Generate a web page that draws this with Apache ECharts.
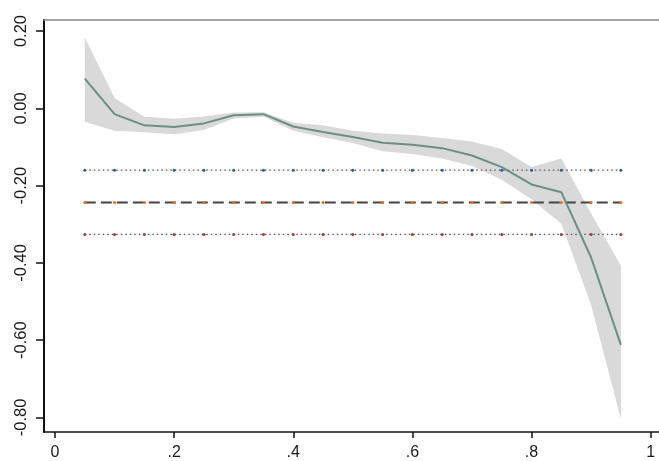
<!DOCTYPE html>
<html>
<head>
<meta charset="utf-8">
<script src="https://cdn.jsdelivr.net/npm/echarts@6/dist/echarts.min.js"></script>
<style>
html,body{margin:0;padding:0;background:#fff;}
#chart{width:659px;height:461px;}
</style>
</head>
<body>
<div id="chart"></div>
<script>
// Data
const xs = [0.05,0.10,0.15,0.20,0.25,0.30,0.35,0.40,0.45,0.50,0.55,0.60,0.65,0.70,0.75,0.80,0.85,0.90,0.95];
const est = [0.077,-0.015,-0.044,-0.048,-0.039,-0.018,-0.015,-0.047,-0.061,-0.074,-0.089,-0.094,-0.103,-0.122,-0.152,-0.197,-0.217,-0.386,-0.612];
const upper = [0.183,0.027,-0.022,-0.027,-0.021,-0.011,-0.010,-0.037,-0.044,-0.058,-0.065,-0.069,-0.077,-0.086,-0.105,-0.152,-0.130,-0.272,-0.407];
const lower = [-0.035,-0.058,-0.062,-0.067,-0.056,-0.026,-0.021,-0.058,-0.075,-0.090,-0.111,-0.118,-0.130,-0.149,-0.185,-0.235,-0.299,-0.509,-0.803];
const refUpper = xs.map(() => -0.160);
const refMid = xs.map(() => -0.2437);
const refLower = xs.map(() => -0.3264);
const xTicks = [0,0.2,0.4,0.6,0.8,1];
const xTickLabels = {0:'0',0.2:'.2',0.4:'.4',0.6:'.6',0.8:'.8',1:'1'};
const yTicks = [-0.8,-0.6,-0.4,-0.2,0,0.2];

const chart = echarts.init(document.getElementById('chart'), null, {renderer:'canvas'});
const font = 'Liberation Sans';
const pair = (arr) => xs.map((x,i) => [x, arr[i]]);

chart.setOption({
  animation: false,
  backgroundColor: '#fff',
  grid: {left: 44, top: 20, right: 0, bottom: 24.5, containLabel: false},
  xAxis: [{
    type: 'value', min: -0.0185, max: 1.014, position: 'bottom',
    splitLine: {show: false},
    axisLine: {show: true, onZero: false, lineStyle: {color: '#111', width: 1.5}},
    axisTick: {show: true, customValues: xTicks, length: 6, lineStyle: {color: '#111', width: 1.5}},
    axisLabel: {show: true, customValues: xTicks, margin: 13, fontFamily: font, fontSize: 16, color: '#1a1a1a',
      formatter: v => xTickLabels[Math.round(v*10)/10] ?? ''}
  },{
    type: 'value', min: -0.0185, max: 1.014, position: 'top',
    splitLine: {show: false},
    axisLine: {show: true, onZero: false, lineStyle: {color: '#888', width: 1.5}},
    axisTick: {show: false}, axisLabel: {show: false}
  }],
  yAxis: {
    type: 'value', min: -0.8376, max: 0.2286,
    splitLine: {show: false},
    axisLine: {show: true, onZero: false, lineStyle: {color: '#111', width: 2}},
    axisTick: {show: true, customValues: yTicks, length: 8, lineStyle: {color: '#111', width: 1.5}},
    axisLabel: {show: true, customValues: yTicks, rotate: 90, margin: 14, fontFamily: font, fontSize: 16.5, color: '#1a1a1a',
      formatter: v => v.toFixed(2)}
  },
  series: [
    {
      type: 'custom', name: 'band', z: 1,
      data: xs.map((x,i) => [x, lower[i], upper[i]]),
      encode: {x: 0, y: [1,2]},
      renderItem: (params, api) => {
        if (params.dataIndex !== 0) return null;
        const pts = [];
        for (let i = 0; i < xs.length; i++) pts.push(api.coord([xs[i], upper[i]]));
        for (let i = xs.length - 1; i >= 0; i--) pts.push(api.coord([xs[i], lower[i]]));
        return {type: 'polygon', shape: {points: pts}, style: {fill: '#d9d9d9', stroke: null}};
      }
    },
    {
      type: 'line', z: 3, data: pair(refUpper), symbol: 'circle', symbolSize: 3,
      itemStyle: {color: '#2d5b9a'},
      lineStyle: {type: [1.5, 3], color: '#555', width: 1.2}
    },
    {
      type: 'line', z: 3, data: pair(refMid), symbol: 'circle', symbolSize: 3,
      itemStyle: {color: '#f26a21'},
      lineStyle: {type: [11, 5], color: '#444', width: 2}
    },
    {
      type: 'line', z: 3, data: pair(refLower), symbol: 'circle', symbolSize: 3,
      itemStyle: {color: '#a33a3a'},
      lineStyle: {type: [1.5, 3], color: '#555', width: 1.2}
    },
    {
      type: 'line', z: 4, data: pair(est), symbol: 'none',
      lineStyle: {color: '#6b8f80', width: 2}
    }
  ]
});
</script>
</body>
</html>
